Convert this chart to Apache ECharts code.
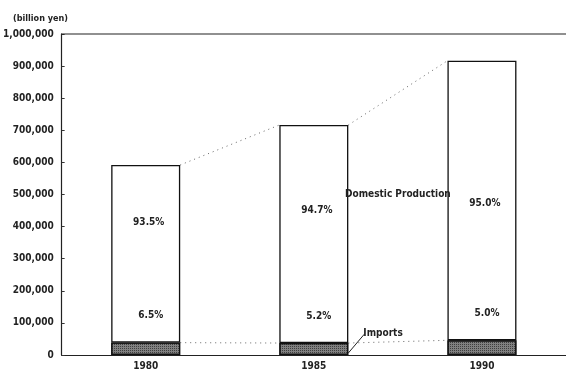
<!DOCTYPE html>
<html>
<head>
<meta charset="utf-8">
<script src="https://cdn.jsdelivr.net/npm/echarts@6/dist/echarts.min.js"></script>
<style>
  html, body { margin: 0; padding: 0; background: #fff; }
  #chart { width: 566px; height: 376px; }
</style>
</head>
<body>
<div id="chart"></div>
<script>
// Supply of goods, billion yen: imports and domestic production per year
const years = ['1980', '1985', '1990'];
const imports = [38500, 37300, 45800];
const domestic = [553500, 679200, 871000];
const importShare = ['6.5%', '5.2%', '5.0%'];
const domesticShare = ['93.5%', '94.7%', '95.0%'];
const yTicks = [0, 100000, 200000, 300000, 400000, 500000, 600000, 700000, 800000, 900000, 1000000];

// label nudges for the share percentages (pixels)
const domesticLabelDy = [-31, -24, 3];

const FONT = 'DejaVu Sans Condensed';
const BAR_W = 69;

const totals = years.map((_, i) => imports[i] + domestic[i]);

const chart = echarts.init(document.getElementById('chart'), null, { renderer: 'canvas' });

function fmt(v) {
  return v.toString().replace(/\B(?=(\d{3})+(?!\d))/g, ',');
}

// dotted connectors between neighbouring bar edges
function connector(getVals) {
  return function (params, api) {
    const i = params.dataIndex;
    const v = getVals(i);
    const p1 = api.coord([i, v[0]]);
    const p2 = api.coord([i + 1, v[1]]);
    return {
      type: 'line',
      shape: { x1: p1[0] + BAR_W / 2, y1: p1[1], x2: p2[0] - BAR_W / 2, y2: p2[1] },
      style: { stroke: '#666', lineWidth: 1, lineDash: [1, 4] }
    };
  };
}

const pairs = years.slice(0, -1).map((_, i) => [i, totals[i]]);

chart.setOption({
  animation: false,
  backgroundColor: '#fff',
  grid: { left: 61, top: 34, width: 510, height: 321 },
  title: {
    text: '(billion yen)',
    left: 8, top: 9,
    textStyle: { fontFamily: FONT, fontSize: 9, fontWeight: 'bold', color: '#222' }
  },
  xAxis: {
    type: 'category',
    data: years,
    boundaryGap: true,
    axisLine: { lineStyle: { color: '#222', width: 1.2 } },
    axisTick: { inside: true, length: 3, lineStyle: { color: '#333' } },
    axisLabel: { fontFamily: FONT, fontSize: 10, fontWeight: 'bold', color: '#222', margin: 6 },
    splitLine: { show: false }
  },
  yAxis: {
    type: 'value',
    min: 0, max: 1000000, interval: 100000,
    axisLine: { show: true, lineStyle: { color: '#222', width: 1.2 } },
    axisTick: { show: true, inside: true, length: 3, lineStyle: { color: '#333' } },
    axisLabel: {
      fontFamily: FONT, fontSize: 10, fontWeight: 'bold', color: '#222', margin: 8,
      formatter: v => yTicks.indexOf(v) >= 0 ? fmt(v) : ''
    },
    splitLine: { show: false }
  },
  series: [
    {
      name: 'Imports',
      type: 'bar',
      stack: 'supply',
      barWidth: BAR_W,
      data: imports,
      itemStyle: {
        color: '#808080',
        borderColor: '#111',
        borderWidth: 1.2,
        decal: {
          symbol: 'rect', symbolSize: 1, color: 'rgba(20,20,20,0.6)',
          dashArrayX: [1, 1], dashArrayY: [1, 1], rotation: 0
        }
      },
      label: {
        show: true, position: 'top', distance: 22, offset: [5, 0],
        formatter: p => importShare[p.dataIndex],
        fontFamily: FONT, fontSize: 10, fontWeight: 'bold', color: '#222'
      }
    },
    {
      name: 'Domestic Production',
      type: 'bar',
      stack: 'supply',
      barWidth: BAR_W,
      data: domestic.map((v, i) => ({
        value: v,
        label: { offset: [3, domesticLabelDy[i]] }
      })),
      itemStyle: { color: '#fff', borderColor: '#111', borderWidth: 1.3 },
      label: {
        show: true, position: 'inside',
        formatter: p => domesticShare[p.dataIndex],
        fontFamily: FONT, fontSize: 10, fontWeight: 'bold', color: '#222'
      }
    },
    {
      type: 'custom',
      data: pairs,
      renderItem: connector(i => [totals[i], totals[i + 1]]),
      z: 1, silent: true
    },
    {
      type: 'custom',
      data: pairs,
      renderItem: connector(i => [imports[i], imports[i + 1]]),
      z: 1, silent: true
    }
  ]
});

// top frame line and series annotations
const topLeft = chart.convertToPixel({ gridIndex: 0 }, [0, 1000000]);
const c1 = chart.convertToPixel({ gridIndex: 0 }, [1, 0]);
const c2 = chart.convertToPixel({ gridIndex: 0 }, [2, 500000]);
const impText = chart.convertToPixel({ gridIndex: 0 }, [1, 68000]);
const axisY = c1[1];

chart.setOption({
  graphic: [
    {
      type: 'line', z: 100,
      shape: { x1: 61, y1: topLeft[1], x2: 566, y2: topLeft[1] },
      style: { stroke: '#222', lineWidth: 1.2 }
    },
    {
      type: 'text', z: 100,
      x: (c1[0] + c2[0]) / 2, y: c2[1],
      style: {
        text: 'Domestic Production', align: 'center', verticalAlign: 'middle',
        fontFamily: FONT, fontSize: 10, fontWeight: 'bold', fill: '#222'
      }
    },
    {
      type: 'text', z: 100,
      x: c1[0] + BAR_W / 2 + 15, y: impText[1],
      style: {
        text: 'Imports', align: 'left', verticalAlign: 'middle',
        fontFamily: FONT, fontSize: 10, fontWeight: 'bold', fill: '#222'
      }
    },
    {
      type: 'line', z: 100,
      shape: { x1: c1[0] + BAR_W / 2, y1: axisY - 2, x2: c1[0] + BAR_W / 2 + 16, y2: impText[1] + 1 },
      style: { stroke: '#222', lineWidth: 1 }
    }
  ]
});
</script>
</body>
</html>
